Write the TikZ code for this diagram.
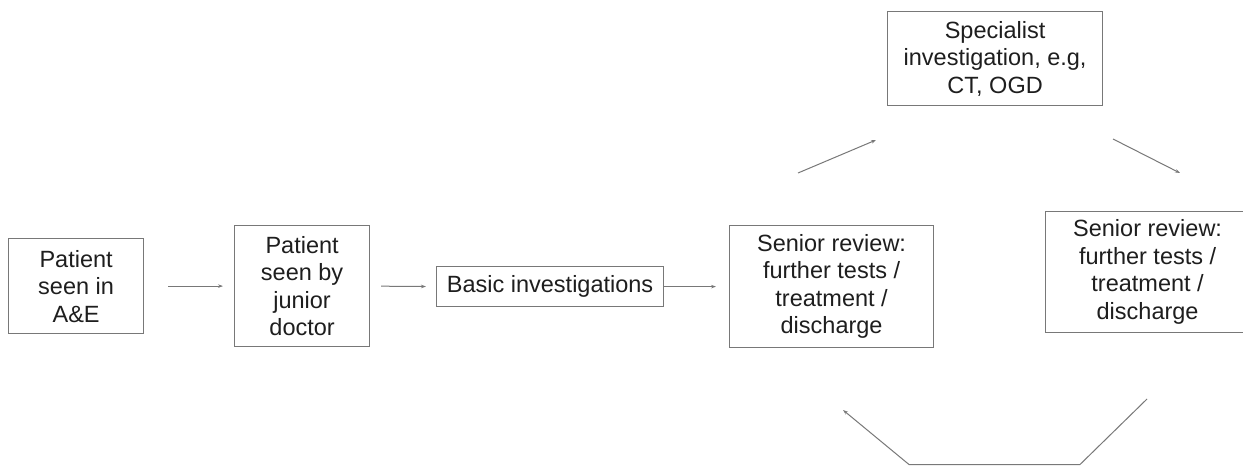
\documentclass[tikz,border=0pt]{standalone}
\usepackage{fontspec}
\setmainfont{Liberation Sans}
\usetikzlibrary{arrows.meta}
\definecolor{linegray}{RGB}{120,120,120}
\definecolor{textgray}{RGB}{30,30,30}
\tikzset{
  box/.style={draw=linegray, line width=1.2pt, fill=white, inner sep=0pt, align=center,
    text=textgray, font=\fontsize{23.5}{27.5}\selectfont, anchor=north west},
  arr/.style={draw=linegray, line width=1pt, -{Stealth[length=5pt,width=3.5pt]}},
  seg/.style={draw=linegray, line width=1pt}
}
\begin{document}
\begin{tikzpicture}[x=1pt,y=-1pt]
\useasboundingbox (0,0) rectangle (1243,466);
\clip (0,0) rectangle (1243,466);
\fill[white] (0,0) rectangle (1243,466);
\node[box, minimum width=135pt, minimum height=95pt] (b1) at (8,238) {Patient\\seen in\\A\&E};
\node[box, minimum width=135pt, minimum height=121pt] (b2) at (234,225) {Patient\\seen by\\junior\\doctor};
\node[box, minimum width=227pt, minimum height=40pt] (b3) at (436,266) {Basic investigations};
\node[box, minimum width=204pt, minimum height=122pt] (b4) at (729,225) {Senior review:\\further tests /\\treatment /\\discharge};
\node[box, minimum width=215pt, minimum height=94pt] (b6) at (887,11) {Specialist\\investigation, e.g,\\CT, OGD};
\node[box, minimum width=204pt, minimum height=121pt] (b5) at (1045,211) {Senior review:\\further tests /\\treatment /\\discharge};

\draw[arr, shorten <=24pt, shorten >=11pt] (b1.east) -- (b2.west);
\draw[arr, shorten <=11pt, shorten >=10pt] (b2.east) -- (b3.west);
\draw[arr, shorten >=13pt] (b3.east) -- (b3.east -| b4.west);

\coordinate (u1) at (798,173);
\coordinate (u2) at (876,140);
\coordinate (v1) at (1113,139);
\coordinate (v2) at (1180,173);
\draw[arr] (u1) -- (u2);
\draw[arr] (v1) -- (v2);

\coordinate (w1) at (1147,399);
\coordinate (w2) at (1080,464.5);
\coordinate (w3) at (909,464.5);
\coordinate (w4) at (843,410);
\draw[arr] (w1) -- (w2) -- (w3) -- (w4);
\end{tikzpicture}
\end{document}
